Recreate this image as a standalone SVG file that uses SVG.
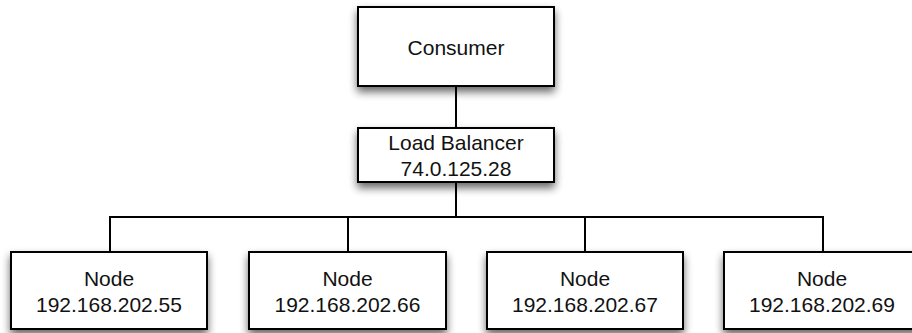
<svg xmlns="http://www.w3.org/2000/svg" width="912" height="333" viewBox="0 0 912 333">
<style>
.box{fill:#fff;stroke:#000;stroke-width:2;filter:url(#sh)}
.t{font-family:"Liberation Sans",Arial,sans-serif;font-size:21px;fill:#111;text-anchor:middle}
.c{fill:none;stroke:#000;stroke-width:2}
</style>
<defs>
<filter id="sh" x="-10%" y="-20%" width="130%" height="160%">
<feGaussianBlur in="SourceAlpha" stdDeviation="4"/>
<feOffset dx="0" dy="5" result="b"/>
<feComponentTransfer><feFuncA type="linear" slope="0.6"/></feComponentTransfer>
<feMerge><feMergeNode/><feMergeNode in="SourceGraphic"/></feMerge>
</filter>
</defs>
<rect width="912" height="333" fill="#fff"/>
<g id="connectors">
<path class="c" d="M456 86V128"/>
<path class="c" d="M456 182V217"/>
<path class="c" d="M110 252V217H823V252"/>
<path class="c" d="M348 217V252"/>
<path class="c" d="M585 217V252"/>
</g>
<g id="consumer">
<rect class="box" x="358" y="7" width="196" height="79"/>
<text class="t" x="456" y="55">Consumer</text>
</g>
<g id="loadbalancer">
<rect class="box" x="358" y="128" width="196" height="54"/>
<text class="t" x="456" y="150">Load Balancer</text>
<text class="t" x="456" y="176">74.0.125.28</text>
</g>
<g id="node1">
<rect class="box" x="11" y="252" width="196" height="77"/>
<text class="t" x="109" y="286">Node</text>
<text class="t" x="109" y="312">192.168.202.55</text>
</g>
<g id="node2">
<rect class="box" x="249" y="252" width="197" height="77"/>
<text class="t" x="347.5" y="286">Node</text>
<text class="t" x="347.5" y="312">192.168.202.66</text>
</g>
<g id="node3">
<rect class="box" x="487" y="252" width="196" height="77"/>
<text class="t" x="585" y="286">Node</text>
<text class="t" x="585" y="312">192.168.202.67</text>
</g>
<g id="node4">
<rect class="box" x="724" y="252" width="196" height="77"/>
<text class="t" x="822" y="286">Node</text>
<text class="t" x="822" y="312">192.168.202.69</text>
</g>
</svg>
